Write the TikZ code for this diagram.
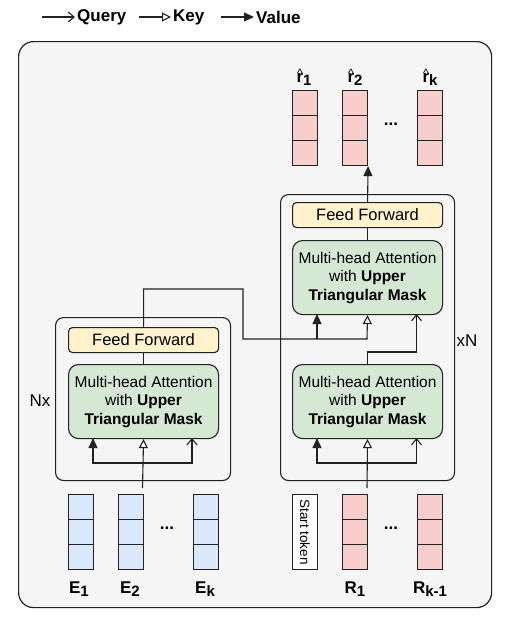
\documentclass[tikz,border=0pt]{standalone}
\usepackage{fontspec}
\setmainfont{Liberation Sans}
\usetikzlibrary{arrows.meta,positioning,calc}
\definecolor{bgc}{HTML}{F5F5F5}
\definecolor{linec}{HTML}{222222}
\definecolor{bluec}{HTML}{DAE8FC}
\definecolor{redc}{HTML}{F8CECC}
\definecolor{yelc}{HTML}{FFF2CC}
\definecolor{grnc}{HTML}{D5E8D4}
\newcommand\sbx[1]{\raisebox{-3.5pt}{\fontsize{15}{15}\selectfont #1}}
\newcommand\hatr{\leavevmode\ooalign{r\cr\hidewidth\raisebox{4.5pt}{\fontsize{12}{12}\selectfont\mdseries\textasciicircum}\hidewidth\cr}}
\tikzset{
  cellbox/.style={draw=linec, line width=1.1pt, minimum width=25pt, minimum height=25pt, inner sep=0pt, anchor=north west},
  blockbox/.style={draw=linec, line width=1.1pt, fill=bgc, rounded corners=8pt, anchor=north west, inner sep=0pt},
  ffbox/.style={draw=linec, line width=1.1pt, fill=yelc, rounded corners=4pt, minimum width=150pt, minimum height=25pt, inner sep=0pt, anchor=north west, font=\fontsize{16.5}{18}\selectfont},
  mhabox/.style={draw=linec, line width=1.1pt, fill=grnc, rounded corners=10pt, minimum width=150pt, minimum height=74pt, inner sep=0pt, anchor=north west, align=center, font=\fontsize{15.5}{18.5}\selectfont},
  lbl/.style={font=\fontsize{17}{17}\selectfont\bfseries, inner sep=0pt},
  conn/.style={draw=linec, line width=1.1pt},
  qry/.style={conn, -{Straight Barb[length=6pt,width=10pt,line width=1.1pt]}},
  keyarr/.style={conn, -{Triangle[open,length=9pt,width=9pt,fill=white,line width=1.1pt]}},
  valarr/.style={conn, -{Triangle[length=10pt,width=9pt]}},
}
\newcommand\cellcol[4]{%
  \node[cellbox, fill=#4] (#1-1) at (#2,#3) {};
  \node[cellbox, fill=#4] (#1-2) at (#2,#3+25) {};
  \node[cellbox, fill=#4] (#1-3) at (#2,#3+50) {};
}
\begin{document}
\begin{tikzpicture}[x=1pt,y=-1pt]
\useasboundingbox (0,0) rectangle (516,627);
% legend
\coordinate (q0) at (42,17); \coordinate (q1) at (75,17);
\coordinate (k0) at (139,17); \coordinate (k1) at (171,17);
\coordinate (v0) at (221,17); \coordinate (v1) at (254,17);
\draw[qry] (q0) -- (q1);
\draw[keyarr] (k0) -- (k1);
\draw[valarr] (v0) -- (v1);
\node[lbl, anchor=west] (tq) at (77,17) {Query};
\node[lbl, anchor=west] (tk) at (173,17) {Key};
\node[lbl, anchor=west] (tv) at (256,17) {Value};
% outer box
\node[draw=linec, line width=1.2pt, fill=bgc, rounded corners=15pt, anchor=north west, minimum width=473pt, minimum height=566pt, inner sep=0pt] (outer) at (18,41) {};
% blocks
\node[blockbox, minimum width=175pt, minimum height=163pt] (blkL) at (55,317) {};
\node[blockbox, minimum width=174pt, minimum height=286pt] (blkR) at (280,194) {};
% left encoder
\node[ffbox] (ffL) at (68,327) {Feed Forward};
\node[mhabox] (mhaL) at (68,364) {Multi-head Attention\\with \textbf{Upper}\\\textbf{Triangular Mask}};
% right decoder
\node[ffbox] (ffR) at (292,202) {Feed Forward};
\node[mhabox] (mhaR2) at (292,240) {Multi-head Attention\\with \textbf{Upper}\\\textbf{Triangular Mask}};
\node[mhabox] (mhaR1) at (292,364) {Multi-head Attention\\with \textbf{Upper}\\\textbf{Triangular Mask}};
\node[font=\fontsize{17}{17}\selectfont, inner sep=0pt] (nx) at (40,401) {Nx};
\node[font=\fontsize{17}{17}\selectfont, inner sep=0pt] (xn) at (467,341) {xN};
% output cells
\cellcol{ro1}{292}{90}{redc}
\cellcol{ro2}{342}{90}{redc}
\cellcol{rok}{416.5}{90}{redc}
\node[lbl] (dto) at (391,124) {...};
\node[lbl, anchor=base] (lr1) at (304,82) {\hatr\sbx{1}};
\node[lbl, anchor=base] (lr2) at (355,82) {\hatr\sbx{2}};
\node[lbl, anchor=base] (lrk) at (430,82) {\hatr\sbx{k}};
% input cells
\cellcol{e1}{68}{494}{bluec}
\cellcol{e2}{118}{494}{bluec}
\cellcol{ek}{192.5}{494}{bluec}
\node[lbl] (dte) at (167,528) {...};
\node[draw=linec, line width=1.1pt, fill=white, minimum width=25pt, minimum height=75pt, inner sep=0pt, anchor=north west] (st) at (292,494) {};
\node[rotate=-90, font=\fontsize{13.5}{13.5}\selectfont, inner sep=0pt] (stt) at (st.center) {Start token};
\cellcol{ri1}{342}{494}{redc}
\cellcol{rik}{416.5}{494}{redc}
\node[lbl] (dtr) at (391,528) {...};
\node[lbl, anchor=base] (le1) at (79,593) {E\sbx{1}};
\node[lbl, anchor=base] (le2) at (130,593) {E\sbx{2}};
\node[lbl, anchor=base] (lek) at (205,593) {E\sbx{k}};
\node[lbl, anchor=base] (lri1) at (355,593) {R\sbx{1}};
\node[lbl, anchor=base] (lrik) at (430,593) {R\sbx{k-1}};
% connectors: encoder
\coordinate (encIn) at (142.5,488);
\coordinate (encJ) at (142.5,463);
\coordinate (lvT) at (93,438);
\coordinate (lqT) at (192,438);
\draw[keyarr] (encIn) -- (mhaL.south);
\draw[valarr] (encJ) -| (lvT);
\draw[qry] (encJ) -| (lqT);
\draw[conn] (mhaL.north) -- (ffL.south);
% decoder lower
\coordinate (decIn) at (367,488);
\coordinate (decJ) at (367,463);
\coordinate (rvT) at (317,438);
\coordinate (rqT) at (416.5,438);
\draw[keyarr] (decIn) -- (mhaR1.south);
\draw[valarr] (decJ) -| (rvT);
\draw[qry] (decJ) -| (rqT);
% encoder output to decoder upper
\coordinate (bA) at (243,289);
\coordinate (kJ) at (367,339);
\coordinate (vJ) at (317,339);
\coordinate (uvT) at (317,314);
\coordinate (qB) at (416.5,352);
\coordinate (uqT) at (416.5,314);
\draw[keyarr] (ffL.north) |- (bA) |- (kJ) -- (mhaR2.south);
\draw[valarr] (vJ) -- (uvT);
\draw[qry] (mhaR1.north) |- (qB) -- (uqT);
\draw[conn] (mhaR2.north) -- (ffR.south);
\draw[valarr] (ffR.north) -- (ro2-3.south east);
\end{tikzpicture}
\end{document}
